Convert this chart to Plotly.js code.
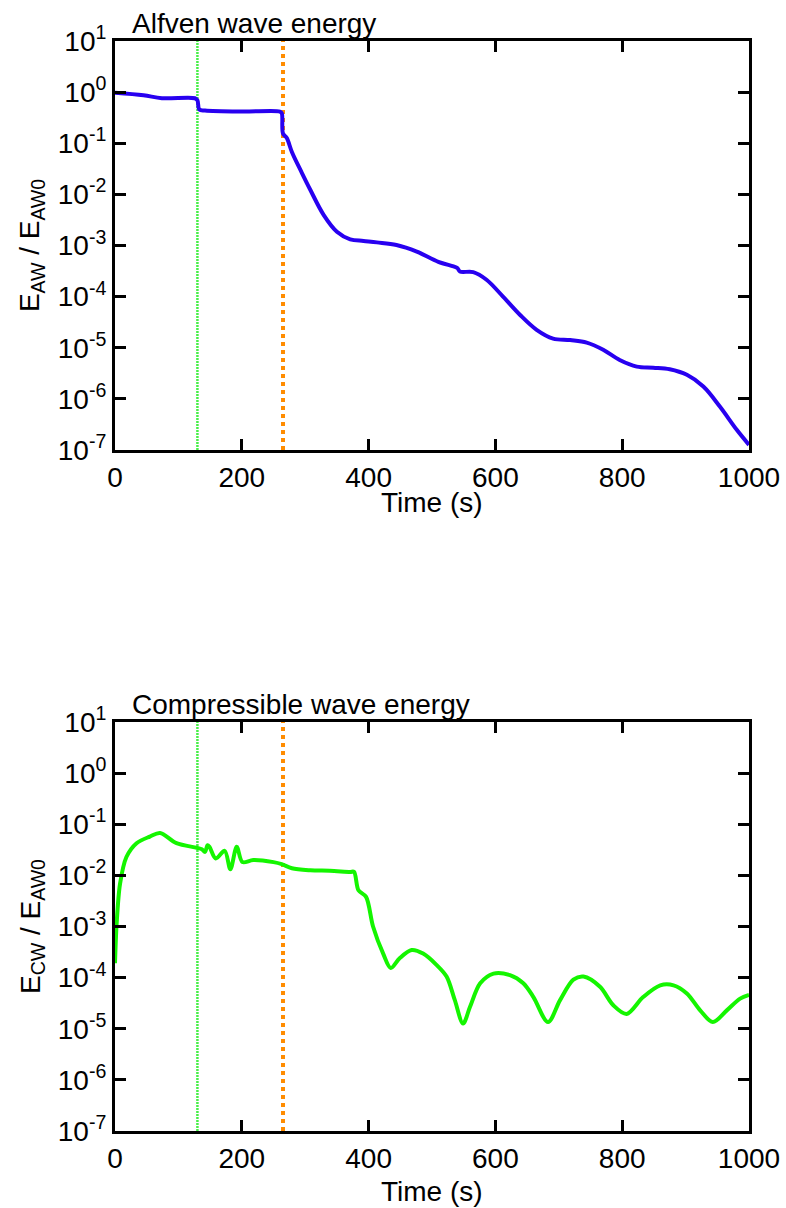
<!DOCTYPE html>
<html>
<head>
<meta charset="utf-8">
<script src="https://cdn.plot.ly/plotly-3.0.1.min.js"></script>
<style>
  html, body { margin: 0; padding: 0; background: #ffffff; }
  #chart { width: 786px; height: 1208px; }
</style>
</head>
<body>
<div id="chart"></div>
<script>
// ---- data ----
const timeAW = [0, 45, 74, 126, 130, 133, 142, 202, 260, 263, 265, 271, 279, 294, 308, 329, 350, 371, 392, 413, 444, 476, 510, 534, 540, 544, 565, 586, 612, 639, 665, 691, 718, 744, 770, 796, 823, 849, 875, 902, 928, 954, 981, 1000];
const energyAW = [0.977, 0.871, 0.759, 0.759, 0.692, 0.457, 0.437, 0.417, 0.417, 0.389, 0.155, 0.126, 0.0676, 0.0275, 0.0123, 3.98e-3, 1.86e-3, 1.32e-3, 1.23e-3, 1.15e-3, 1.02e-3, 7.59e-4, 4.79e-4, 3.89e-4, 3.63e-4, 3.09e-4, 3.02e-4, 2.14e-4, 1.0e-4, 4.37e-5, 2.24e-5, 1.51e-5, 1.41e-5, 1.26e-5, 9.12e-6, 5.75e-6, 4.27e-6, 4.07e-6, 3.80e-6, 2.95e-6, 1.74e-6, 7.08e-7, 2.45e-7, 1.26e-7];

const timeCW = [0, 2.6, 8, 18, 34, 55, 71, 97, 129, 137, 142, 146, 149, 159, 173, 182, 192, 201, 218, 250, 263, 279, 308, 339, 371, 377, 384, 396, 407, 423, 435, 449, 468, 486, 507, 523, 536, 549, 560, 576, 597, 623, 644, 660, 683, 702, 723, 739, 765, 786, 807, 833, 860, 881, 902, 923, 943, 965, 986, 1000];
const energyCW = [1.91e-4, 1.15e-3, 6.92e-3, 0.0229, 0.0427, 0.0575, 0.0676, 0.0427, 0.0347, 0.0324, 0.0288, 0.0389, 0.0363, 0.0214, 0.0302, 0.0132, 0.0363, 0.0182, 0.0200, 0.0182, 0.0166, 0.0138, 0.0126, 0.0123, 0.0117, 0.0117, 5.13e-3, 3.80e-3, 1.0e-3, 2.95e-4, 1.55e-4, 2.40e-4, 3.47e-4, 2.95e-4, 1.78e-4, 1.05e-4, 3.63e-5, 1.26e-5, 2.69e-5, 7.76e-5, 1.20e-4, 1.12e-4, 7.76e-5, 4.17e-5, 1.35e-5, 3.63e-5, 9.12e-5, 1.05e-4, 6.61e-5, 2.88e-5, 1.95e-5, 4.17e-5, 7.08e-5, 7.08e-5, 4.90e-5, 2.29e-5, 1.35e-5, 2.29e-5, 3.89e-5, 4.57e-5];

const markerTimes = [130, 265];            // vertical dotted lines
const yRange = [1e-7, 1e1];
const yTickVals = [1e-7, 1e-6, 1e-5, 1e-4, 1e-3, 1e-2, 1e-1, 1e0, 1e1];
const yTickText = ['10<sup>-7</sup>', '10<sup>-6</sup>', '10<sup>-5</sup>', '10<sup>-4</sup>', '10<sup>-3</sup>', '10<sup>-2</sup>', '10<sup>-1</sup>', '10<sup>0</sup>', '10<sup>1</sup>'];
const panelTitles = ['Alfven wave energy', 'Compressible wave energy'];
const yTitles = ['E<sub>AW</sub> / E<sub>AW0</sub>', 'E<sub>CW</sub> / E<sub>AW0</sub>'];
const xTitle = 'Time (s)';

// ---- styling ----
const FONT = 'Liberation Sans, Arial, Helvetica, sans-serif';
const fnt = { family: FONT, size: 28, color: '#000' };
const blue = 'rgb(40,0,240)';
const green = 'rgb(20,245,0)';
const vStyles = [
  { color: 'rgb(70,240,70)', width: 2.5, dash: '2px,1px' },
  { color: 'rgb(255,140,0)', width: 4, dash: 'dot' }
];

const traces = [];
// vertical marker lines (drawn first so curves lie on top)
[['x', 'y'], ['x2', 'y2']].forEach(function (ax) {
  markerTimes.forEach(function (t, i) {
    traces.push({ x: [t, t], y: yRange, xaxis: ax[0], yaxis: ax[1], type: 'scatter', mode: 'lines',
      line: vStyles[i], hoverinfo: 'skip' });
  });
});
traces.push({ x: timeAW, y: energyAW, xaxis: 'x', yaxis: 'y', type: 'scatter', mode: 'lines',
  line: { color: blue, width: 4, shape: 'spline', smoothing: 1.0 }, hoverinfo: 'skip' });
traces.push({ x: timeCW, y: energyCW, xaxis: 'x2', yaxis: 'y2', type: 'scatter', mode: 'lines',
  line: { color: green, width: 4, shape: 'spline', smoothing: 0.9 }, hoverinfo: 'skip' });

function xAxis(anchor) {
  return { anchor: anchor, domain: [0, 1], range: [0, 1000], dtick: 200,
    ticks: 'inside', ticklen: 11, tickwidth: 3, tickcolor: '#000',
    showline: true, linewidth: 3, linecolor: '#000', mirror: 'allticks',
    showgrid: false, zeroline: false, tickfont: fnt };
}
function yAxis(anchor, domain, title) {
  return { anchor: anchor, domain: domain, type: 'log', range: [-7, 1],
    tickmode: 'array', tickvals: yTickVals, ticktext: yTickText,
    ticks: 'inside', ticklen: 11, tickwidth: 3, tickcolor: '#000',
    showline: true, linewidth: 3, linecolor: '#000', mirror: 'allticks',
    showgrid: false, zeroline: false, tickfont: fnt,
    title: { text: title, font: fnt, standoff: 10 } };
}

// pixel -> paper (plot area spans 41..1131)
function py(p) { return (1131 - p) / 1090; }

const layout = {
  width: 786, height: 1208,
  margin: { l: 115, r: 37, t: 41, b: 77 },
  showlegend: false,
  font: fnt,
  xaxis: xAxis('y'),
  yaxis: yAxis('x', [0.6248, 1], yTitles[0]),
  xaxis2: xAxis('y2'),
  yaxis2: yAxis('x2', [0, 0.3752], yTitles[1]),
  annotations: [
    { text: panelTitles[0], xref: 'paper', yref: 'paper', x: 0.024, y: 1.0, xanchor: 'left', yanchor: 'bottom',
      showarrow: false, font: fnt },
    { text: panelTitles[1], xref: 'paper', yref: 'paper', x: 0.024, y: 0.3752, xanchor: 'left', yanchor: 'bottom',
      showarrow: false, font: fnt },
    { text: xTitle, xref: 'paper', yref: 'paper', x: 0.5, y: py(502), xanchor: 'center', yanchor: 'middle',
      showarrow: false, font: fnt },
    { text: xTitle, xref: 'paper', yref: 'paper', x: 0.5, y: py(1191), xanchor: 'center', yanchor: 'middle',
      showarrow: false, font: fnt }
  ]
};

Plotly.newPlot('chart', traces, layout, { staticPlot: true, displayModeBar: false });
</script>
</body>
</html>
